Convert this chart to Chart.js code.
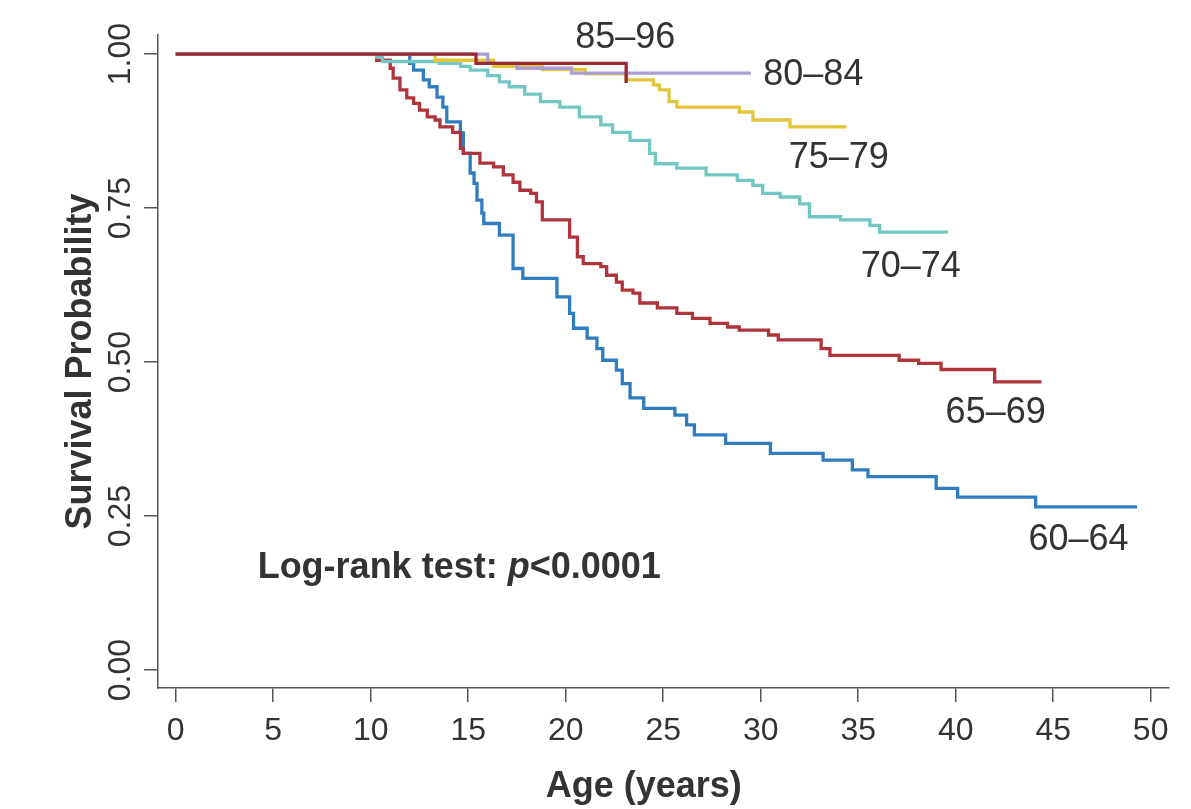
<!DOCTYPE html>
<html>
<head>
<meta charset="utf-8">
<script src="https://cdn.jsdelivr.net/npm/chart.js@4.4.1/dist/chart.umd.min.js"></script>
<style>
  html, body { margin: 0; padding: 0; background: #fff; }
  #wrap { width: 1191px; height: 809px; position: relative; }
</style>
</head>
<body>
<div id="wrap"><canvas id="survivalChart"></canvas></div>
<script>
// age groups, top curve first
const groups = ["85–96", "80–84", "75–79", "70–74", "65–69", "60–64"];
const xTicks = [0, 5, 10, 15, 20, 25, 30, 35, 40, 45, 50];
const yTicks = [0, 0.25, 0.5, 0.75, 1];

// Kaplan-Meier steps: time (years) and survival from that time on
const t8596 = [0, 15.4, 23.1];
const s8596 = [1, 0.985, 0.953];

const t8084 = [0, 16.0, 17.5, 20.3, 29.5];
const s8084 = [1, 0.985, 0.977, 0.969, 0.969];

const t7579 = [0, 13.3, 16.3, 18.8, 21.0, 23.1, 24.5, 24.8, 25.3, 25.7, 28.9, 29.6, 31.5, 34.4];
const s7579 = [1, 0.99, 0.98, 0.975, 0.968, 0.958, 0.95, 0.942, 0.923, 0.914, 0.906, 0.893, 0.882, 0.882];

const t7074 = [0, 10.3, 10.6, 13.5, 14.6, 15.1, 16.0, 16.6, 17.1, 17.9, 18.7, 19.7, 20.7, 21.8, 22.4,
               23.3, 24.3, 24.6, 25.7, 27.2, 28.8, 29.6, 30.1, 31.0, 32.0, 32.5, 34.1, 35.6, 36.1, 39.6];
const s7074 = [1, 0.995, 0.988, 0.985, 0.98, 0.974, 0.965, 0.955, 0.947, 0.935, 0.923, 0.914, 0.898, 0.885, 0.873,
               0.86, 0.839, 0.822, 0.815, 0.804, 0.795, 0.787, 0.774, 0.768, 0.757, 0.736, 0.731, 0.722, 0.711, 0.711];

const t6569 = [0, 10.3, 11.0, 11.15, 11.5, 11.85, 12.2, 12.5, 12.9, 13.3, 13.55, 14.2, 14.6, 14.75, 15.6, 16.3,
               16.8, 17.3, 17.65, 18.2, 18.5, 18.8, 20.2, 20.6, 20.9, 21.8, 22.1, 22.6, 22.9, 23.45, 23.8, 24.7,
               25.7, 26.5, 27.4, 28.3, 28.9, 30.4, 30.9, 33.1, 33.55, 37.1, 38.1, 39.25, 42.0, 44.4];
const s6569 = [1, 0.99, 0.977, 0.961, 0.942, 0.929, 0.92, 0.909, 0.898, 0.893, 0.882, 0.873, 0.847, 0.839, 0.823, 0.817,
               0.804, 0.792, 0.779, 0.774, 0.76, 0.731, 0.703, 0.671, 0.66, 0.655, 0.641, 0.63, 0.617, 0.612, 0.596, 0.588,
               0.579, 0.571, 0.563, 0.557, 0.552, 0.544, 0.536, 0.522, 0.511, 0.503, 0.498, 0.488, 0.468, 0.468];

const t6064 = [0, 12.0, 12.2, 12.7, 13.0, 13.4, 13.7, 13.9, 14.6, 14.75, 15.1, 15.3, 15.45, 15.7, 15.8, 16.6,
               17.3, 17.8, 19.55, 20.2, 20.4, 21.1, 21.6, 21.9, 22.6, 22.9, 23.3, 24.0, 25.6, 26.2, 26.6, 28.2,
               30.5, 33.2, 34.7, 35.5, 39.0, 40.1, 44.1, 49.3];
const s6064 = [1, 0.985, 0.974, 0.958, 0.947, 0.93, 0.914, 0.89, 0.872, 0.839, 0.807, 0.79, 0.763, 0.742, 0.725, 0.706,
               0.652, 0.636, 0.606, 0.579, 0.555, 0.539, 0.522, 0.503, 0.487, 0.465, 0.442, 0.425, 0.414, 0.398, 0.382, 0.368,
               0.352, 0.341, 0.325, 0.314, 0.295, 0.281, 0.265, 0.265];

const FONT = "'Liberation Sans', Arial, Helvetica, sans-serif";
const INK = "#333333";
const AXIS = "#555555";

// where the group names sit, in (years, probability)
const labelAnchors = [[23.05, 1.026], [32.7, 0.966], [34.0, 0.831], [37.7, 0.654], [42.05, 0.417], [46.3, 0.211]];

function steps(t, s) {
    return t.map((v, i) => ({ x: v, y: s[i] }));
}

function curve(label, t, s, color) {
    return {
        label: label,
        data: steps(t, s),
        borderColor: color,
        backgroundColor: color,
        borderWidth: 3.3,
        stepped: "before",
        pointRadius: 0,
        fill: false,
    };
}

const annotations = {
    id: "annotations",
    afterDraw(chart) {
        const ctx = chart.ctx;
        const xs = chart.scales.x;
        const ys = chart.scales.y;
        ctx.save();
        ctx.fillStyle = INK;

        ctx.font = "36px " + FONT;
        ctx.textAlign = "center";
        ctx.textBaseline = "middle";
        groups.forEach((g, i) => {
            ctx.fillText(g, xs.getPixelForValue(labelAnchors[i][0]), ys.getPixelForValue(labelAnchors[i][1]));
        });

        // log-rank note, italic p
        ctx.textAlign = "left";
        ctx.textBaseline = "alphabetic";
        let px = xs.getPixelForValue(4.2);
        const py = ys.getPixelForValue(0.149);
        [["Log-rank test: ", "bold"], ["p", "italic bold"], ["<0.0001", "bold"]].forEach(([txt, style]) => {
            ctx.font = style + " 36px " + FONT;
            ctx.fillText(txt, px, py);
            px += ctx.measureText(txt).width;
        });

        // x axis title
        ctx.font = "bold 36px " + FONT;
        ctx.textAlign = "center";
        ctx.fillText("Age (years)", xs.getPixelForValue(24), chart.chartArea.bottom + 109);
        ctx.restore();
    }
};

const gridOpts = { display: true, drawOnChartArea: false, drawTicks: true, tickLength: 14, color: AXIS, lineWidth: 1.5 };
const borderOpts = { display: true, color: AXIS, width: 1.5 };

new Chart(document.getElementById("survivalChart"), {
    type: "line",
    data: {
        datasets: [
            curve(groups[0], t8596, s8596, "#9a2a35"),
            curve(groups[1], t8084, s8084, "#a99fd3"),
            curve(groups[2], t7579, s7579, "#e3c53c"),
            curve(groups[3], t7074, s7074, "#72c7c3"),
            curve(groups[4], t6569, s6569, "#b0343c"),
            curve(groups[5], t6064, s6064, "#2f7dbf"),
        ],
    },
    options: {
        responsive: true,
        maintainAspectRatio: false,
        animation: false,
        layout: { padding: { top: 35, right: 22, left: 0, bottom: 0 } },
        plugins: {
            legend: { display: false },
            tooltip: { enabled: false },
        },
        scales: {
            x: {
                type: "linear",
                min: -0.91,
                max: 50.94,
                afterBuildTicks: (s) => { s.ticks = xTicks.map((v) => ({ value: v })); },
                afterFit: (s) => { s.height = 121; },
                grid: gridOpts,
                border: borderOpts,
                ticks: {
                    autoSkip: false,
                    maxRotation: 0,
                    padding: 10,
                    color: INK,
                    font: { size: 32, family: FONT },
                    callback: (v) => String(v),
                },
            },
            y: {
                type: "linear",
                min: -0.029,
                max: 1.031,
                afterBuildTicks: (s) => { s.ticks = yTicks.map((v) => ({ value: v })); },
                afterFit: (s) => { s.width = 158; },
                grid: gridOpts,
                border: borderOpts,
                ticks: {
                    autoSkip: false,
                    minRotation: 90,
                    maxRotation: 90,
                    crossAlign: "center",
                    padding: -8,
                    color: INK,
                    font: { size: 32, family: FONT },
                    callback: (v) => Number(v).toFixed(2),
                },
                title: {
                    display: true,
                    text: "Survival Probability",
                    color: INK,
                    font: { size: 36, weight: "bold", family: FONT },
                    padding: { top: 59, bottom: 0 },
                },
            },
        },
    },
    plugins: [annotations],
});
</script>
</body>
</html>
